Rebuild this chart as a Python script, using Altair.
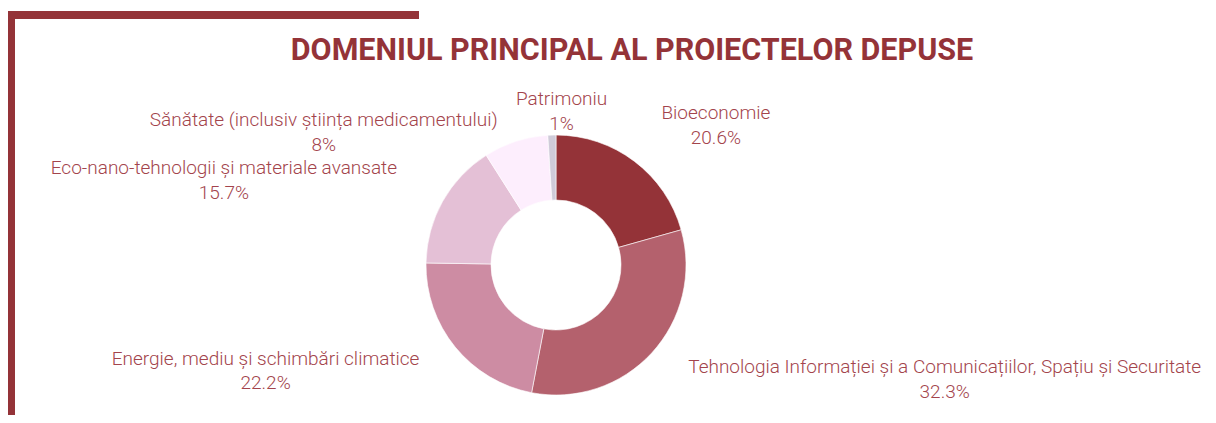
import altair as alt
import pandas as pd

# ---- data ----
title_text = "DOMENIUL PRINCIPAL AL PROIECTELOR DEPUSE"
categories = [
    "Bioeconomie",
    "Tehnologia Informației și a Comunicațiilor, Spațiu și Securitate",
    "Energie, mediu și schimbări climatice",
    "Eco-nano-tehnologii și materiale avansate",
    "Sănătate (inclusiv știința medicamentului)",
    "Patrimoniu",
]
values = [20.6, 32.3, 22.2, 15.7, 8.0, 1.0]
pct_labels = ["20.6%", "32.3%", "22.2%", "15.7%", "8%", "1%"]

# ---- style / layout ----
colors = ["#943338", "#b4616d", "#cd8ca3", "#e4c0d6", "#fdeefd", "#cfcbd9"]
label_dx = [56, 262, -157, -182, -179, 11]
label_dy = [-14.5, -14, -15, -13, 19, 6]
DARK = "#943338"
LABEL_COLOR = "#a3444c"
CX, CY = 548, 257

total = sum(values)
mids = []
cum = 0.0
for v in values:
    mids.append(cum + v / 2)
    cum += v

df = pd.DataFrame({
    "category": categories,
    "value": values,
    "order": list(range(len(values))),
    "mid": mids,
    "label": [f"{c}\n{p}" for c, p in zip(categories, pct_labels)],
})

theta_scale = alt.Scale(domain=[0, total])

donut = alt.Chart(df).mark_arc(
    innerRadius=65, outerRadius=130, stroke="#ffffff", strokeWidth=0.6
).encode(
    theta=alt.Theta("value:Q", stack=True, scale=theta_scale),
    order=alt.Order("order:Q"),
    color=alt.Color("category:N", scale=alt.Scale(domain=categories, range=colors), legend=None),
    x=alt.value(CX),
    y=alt.value(CY),
)

labels = []
for cat, dx, dy in zip(categories, label_dx, label_dy):
    labels.append(
        alt.Chart(df)
        .transform_filter(alt.FieldEqualPredicate(field="category", equal=cat))
        .mark_text(
            radius=172, dx=dx, dy=dy, align="center", baseline="middle",
            lineBreak="\n", lineHeight=24.5, font="Roboto", fontSize=19,
            fontWeight=300, color=LABEL_COLOR,
        )
        .encode(
            theta=alt.Theta("mid:Q", stack=False, scale=theta_scale),
            text="label:N",
            x=alt.value(CX),
            y=alt.value(CY),
        )
    )

title_df = pd.DataFrame({"t": [title_text]})
title = alt.Chart(title_df).mark_text(
    font="Roboto", fontSize=30.5, fontWeight="bold", color=DARK,
    align="center", baseline="middle",
).encode(text="t:N", x=alt.value(624), y=alt.value(43))

frame_df = pd.DataFrame({"k": [0]})
hline = alt.Chart(frame_df).mark_rule(color=DARK, strokeWidth=8).encode(
    x=alt.value(-1), x2=alt.value(411), y=alt.value(7)
)
vline = alt.Chart(frame_df).mark_rule(color=DARK, strokeWidth=8).encode(
    x=alt.value(3), y=alt.value(3), y2=alt.value(410)
)

chart = alt.layer(hline, vline, title, donut, *labels).properties(
    width=1200, height=407,
    autosize=alt.AutoSizeParams(type="none"),
    padding=0,
    background="white",
).configure_view(stroke=None)

chart.save("out.html", embed_options={"renderer": "svg", "actions": False})
